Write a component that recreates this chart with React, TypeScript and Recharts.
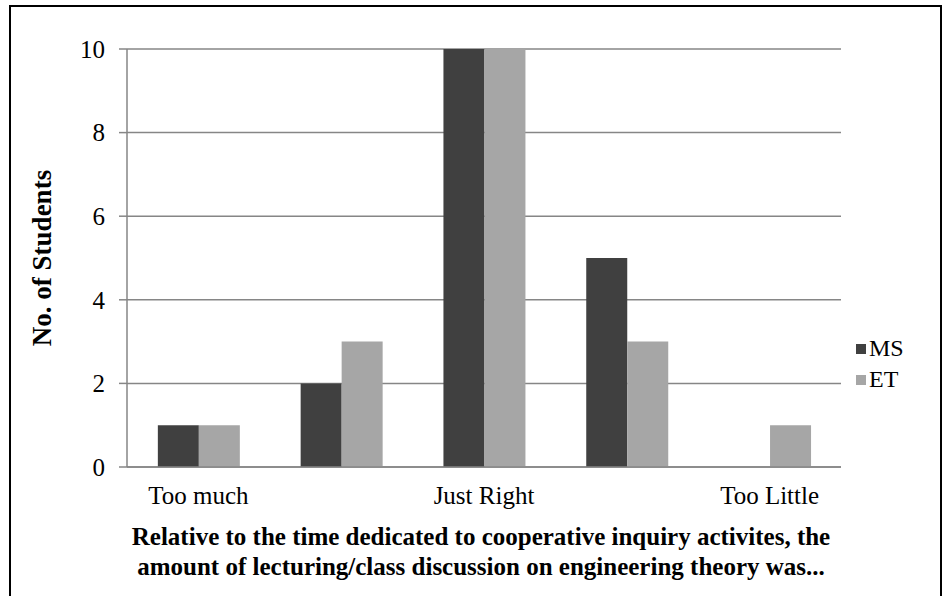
import React from "react";
import { BarChart, Bar, XAxis, YAxis, CartesianGrid } from "recharts";

const categories = ["Too much", "Somewhat too much", "Just Right", "Somewhat too little", "Too Little"];
const tickLabels = ["Too much", "", "Just Right", "", "Too Little"];
const msValues = [1, 2, 10, 5, 0];
const etValues = [1, 3, 10, 3, 1];
const yTicks = [0, 2, 4, 6, 8, 10];
const seriesNames = ["MS", "ET"];
const seriesColors = ["#404040", "#a6a6a6"];
const xTitleLines = [
  "Relative to the time dedicated to cooperative inquiry activites, the",
  "amount of lecturing/class discussion on engineering theory was...",
];
const yTitle = "No. of Students";

const data = categories.map((c, i) => ({ cat: c, label: tickLabels[i], MS: msValues[i], ET: etValues[i] }));

const FONT = "'Liberation Serif', 'Times New Roman', serif";

const XTitle = () => {
  const cx = 481;
  return (
    <text x={cx} y={545} textAnchor="middle" fontFamily={FONT} fontSize={25} fontWeight="bold" fill="#000">
      <tspan x={cx}>{xTitleLines[0]}</tspan>
      <tspan x={cx} dy={30}>{xTitleLines[1]}</tspan>
    </text>
  );
};

const YTitle = () => (
  <text x={42} y={258} transform="rotate(-90 42 258)" textAnchor="middle" dominantBaseline="central" fontFamily={FONT} fontSize={27} fontWeight="bold" fill="#000">
    {yTitle}
  </text>
);

const LegendBox = () => (
  <div style={{ position: "absolute", left: 856, top: 333, fontFamily: FONT, fontSize: 24, color: "#000", lineHeight: "31px" }}>
    {seriesNames.map((n, i) => (
      <div key={n} style={{ display: "flex", alignItems: "center", height: 31 }}>
        <span style={{ display: "inline-block", width: 10, height: 10, background: seriesColors[i], marginRight: 3 }} />
        <span>{n}</span>
      </div>
    ))}
  </div>
);

export default function App() {
  return (
    <div style={{ position: "absolute", left: 0, top: 0, width: 946, height: 596, background: "#fff", overflow: "hidden" }}>
      <div style={{ position: "absolute", left: 9, top: 5, width: 946 - 9 - 4, height: 700, border: "2px solid #000", boxSizing: "border-box" }} />
      <div style={{ position: "absolute", left: 0, top: 0 }}>
        <BarChart
          width={946}
          height={596}
          data={data}
          margin={{ top: 49, right: 105, bottom: 99, left: 67 }}
          barCategoryGap="21.6%"
          barGap={0}
        >
          <CartesianGrid vertical={false} stroke="#868686" strokeWidth={1.5} />
          <XAxis
            dataKey="cat"
            height={30}
            interval={0}
            tickFormatter={(_v: any, i: number) => tickLabels[i]}
            tickLine={false}
            tickSize={0}
            tickMargin={19}
            axisLine={{ stroke: "#868686", strokeWidth: 1.5 }}
            tick={{ fontFamily: FONT, fontSize: 25, fill: "#000" }}
            label={<XTitle />}
          />
          <YAxis
            width={60}
            domain={[0, 10]}
            ticks={yTicks}
            interval={0}
            tickSize={8}
            tickMargin={14}
            axisLine={{ stroke: "#868686", strokeWidth: 1.5 }}
            tickLine={{ stroke: "#868686", strokeWidth: 1.5 }}
            tick={{ fontFamily: FONT, fontSize: 25, fill: "#000" }}
            label={<YTitle />}
          />
          <Bar dataKey="MS" name="MS" fill={seriesColors[0]} isAnimationActive={false} />
          <Bar dataKey="ET" name="ET" fill={seriesColors[1]} isAnimationActive={false} />
        </BarChart>
      </div>
      <LegendBox />
    </div>
  );
}
